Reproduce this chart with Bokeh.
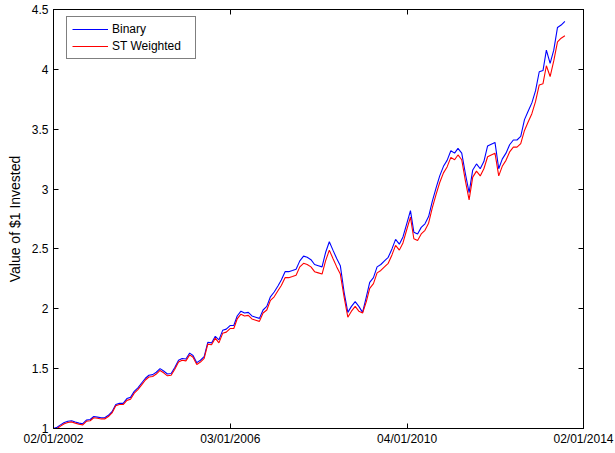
import pandas as pd
from bokeh.plotting import figure
from bokeh.models import (Range1d, DatetimeAxis, LinearAxis, FixedTicker,
                          DatetimeTickFormatter, NumeralTickFormatter, ColumnDataSource)
from bokeh.embed import file_html
from bokeh.resources import INLINE

# ---------------- data (monthly, starting January 2002) ----------------
START_MONTH = "2002-01-01"

binary = [
    1.00, 1.01, 1.03, 1.05, 1.06, 1.065, 1.055, 1.045, 1.04, 1.07,
    1.075, 1.10, 1.095, 1.09, 1.09, 1.11, 1.14, 1.20, 1.21, 1.21,
    1.25, 1.26, 1.31, 1.34, 1.38, 1.42, 1.445, 1.45, 1.47, 1.50,
    1.48, 1.455, 1.46, 1.51, 1.57, 1.585, 1.58, 1.63, 1.61, 1.55,
    1.57, 1.60, 1.72, 1.715, 1.77, 1.74, 1.82, 1.83, 1.86, 1.86,
    1.94, 1.98, 1.965, 1.97, 1.94, 1.93, 1.92, 1.99, 2.02, 2.10,
    2.14, 2.19, 2.24, 2.31, 2.31, 2.32, 2.33, 2.40, 2.44, 2.43,
    2.41, 2.37, 2.36, 2.35, 2.47, 2.56, 2.49, 2.42, 2.36, 2.14,
    1.97, 2.02, 2.06, 2.02, 1.97, 2.10, 2.22, 2.26, 2.35, 2.37,
    2.40, 2.43, 2.50, 2.58, 2.54, 2.60, 2.71, 2.82, 2.64, 2.625,
    2.68, 2.71, 2.77, 2.90, 3.01, 3.11, 3.19, 3.24, 3.32, 3.30,
    3.34, 3.30, 3.13, 2.97, 3.16, 3.21, 3.17, 3.23, 3.36, 3.375,
    3.39, 3.17, 3.25, 3.30, 3.37, 3.41, 3.41, 3.44, 3.58, 3.65,
    3.72, 3.82, 3.98, 3.99, 4.16, 4.05, 4.16, 4.35, 4.37, 4.40,
]

st_weighted = [
    1.00, 1.00, 1.02, 1.04, 1.05, 1.055, 1.045, 1.035, 1.03, 1.06,
    1.065, 1.09, 1.085, 1.08, 1.08, 1.10, 1.13, 1.19, 1.20, 1.20,
    1.235, 1.245, 1.295, 1.325, 1.365, 1.405, 1.43, 1.435, 1.455, 1.485,
    1.465, 1.44, 1.445, 1.495, 1.555, 1.57, 1.565, 1.615, 1.595, 1.535,
    1.555, 1.585, 1.705, 1.70, 1.755, 1.715, 1.795, 1.805, 1.835, 1.835,
    1.915, 1.955, 1.94, 1.945, 1.915, 1.905, 1.895, 1.965, 1.99, 2.07,
    2.10, 2.15, 2.195, 2.26, 2.26, 2.27, 2.28, 2.35, 2.38, 2.37,
    2.35, 2.31, 2.30, 2.29, 2.40, 2.49, 2.42, 2.35, 2.29, 2.10,
    1.93, 1.98, 2.02, 1.98, 1.965, 2.06, 2.17, 2.21, 2.30, 2.32,
    2.35, 2.38, 2.45, 2.53, 2.49, 2.55, 2.66, 2.765, 2.585, 2.57,
    2.625, 2.655, 2.715, 2.845, 2.955, 3.055, 3.135, 3.185, 3.265, 3.245,
    3.285, 3.245, 3.07, 2.91, 3.10, 3.15, 3.11, 3.17, 3.27, 3.285,
    3.30, 3.11, 3.19, 3.24, 3.31, 3.35, 3.35, 3.38, 3.49, 3.56,
    3.63, 3.73, 3.87, 3.88, 4.03, 3.94, 4.07, 4.23, 4.26, 4.28,
]

x_tick_dates = ["2002-01-02", "2006-01-03", "2010-01-04", "2014-01-02"]
y_ticks = [1, 1.5, 2, 2.5, 3, 3.5, 4, 4.5]
series_labels = ["Binary", "ST Weighted"]
series_colors = ["#0000FF", "#FF0000"]

# ---------------- build ----------------
dates = pd.date_range(START_MONTH, periods=len(binary), freq="MS")
src = ColumnDataSource(dict(date=dates, binary=binary, st=st_weighted))

x_start = pd.Timestamp(x_tick_dates[0])
x_end = pd.Timestamp(x_tick_dates[-1])
x_tick_ms = [pd.Timestamp(d).value / 1e6 for d in x_tick_dates]

FONT = "Liberation Sans"

p = figure(width=614, height=448, x_axis_type="datetime",
           x_range=Range1d(x_start, x_end), y_range=Range1d(1, 4.5),
           output_backend="svg", toolbar_location=None,
           min_border_left=53, min_border_right=31,
           min_border_top=9, min_border_bottom=19)

p.xgrid.visible = False
p.ygrid.visible = False
p.outline_line_color = "black"
p.outline_line_width = 1
p.background_fill_color = "white"
p.border_fill_color = "white"

date_fmt = DatetimeTickFormatter(
    years="%d/%m/%Y", months="%d/%m/%Y", days="%d/%m/%Y",
    hours="%d/%m/%Y", minutes="%d/%m/%Y", hourmin="%d/%m/%Y",
    minsec="%d/%m/%Y", seconds="%d/%m/%Y", milliseconds="%d/%m/%Y",
    microseconds="%d/%m/%Y", strip_leading_zeros=False)


def style_axis(ax):
    ax.axis_line_color = "black"
    ax.axis_line_width = 1
    ax.major_tick_line_color = "black"
    ax.major_tick_in = 5
    ax.major_tick_out = 0
    ax.minor_tick_line_color = None
    ax.major_label_text_font = FONT
    ax.major_label_text_font_size = "12px"
    ax.major_label_text_color = "black"


xa = p.xaxis[0]
xa.ticker = FixedTicker(ticks=x_tick_ms)
xa.formatter = date_fmt
style_axis(xa)
xa.major_label_standoff = 3

ya = p.yaxis[0]
ya.ticker = FixedTicker(ticks=y_ticks)
ya.formatter = NumeralTickFormatter(format="0.[0]")
style_axis(ya)
ya.major_label_standoff = 5
ya.axis_label = "Value of $1 Invested"
ya.axis_label_text_font = FONT
ya.axis_label_text_font_size = "14px"
ya.axis_label_text_font_style = "normal"
ya.axis_label_text_color = "black"
ya.axis_label_standoff = 6

# box axes (top / right): ticks only, no labels drawn
top = DatetimeAxis(ticker=FixedTicker(ticks=x_tick_ms), formatter=date_fmt)
style_axis(top)
top.major_label_text_font_size = "0px"
top.major_label_text_color = None
top.major_label_standoff = 0
p.add_layout(top, "above")

right = LinearAxis(ticker=FixedTicker(ticks=y_ticks))
style_axis(right)
right.major_label_text_font_size = "0px"
right.major_label_text_color = None
right.major_label_standoff = 0
p.add_layout(right, "right")

p.line("date", "binary", source=src, line_color=series_colors[0], line_width=1.1,
       legend_label=series_labels[0])
p.line("date", "st", source=src, line_color=series_colors[1], line_width=1.1,
       legend_label=series_labels[1])

lg = p.legend[0]
lg.location = (13, 369)
lg.border_line_color = "black"
lg.border_line_width = 1
lg.background_fill_color = "white"
lg.background_fill_alpha = 1
lg.label_text_font = FONT
lg.label_text_font_size = "12px"
lg.label_text_color = "black"
lg.glyph_width = 36
lg.glyph_height = 14
lg.label_height = 14
lg.label_width = 78
lg.label_standoff = 4
lg.spacing = 3
lg.padding = 5
lg.margin = 0

open("out.html", "w").write(file_html(p, INLINE))
